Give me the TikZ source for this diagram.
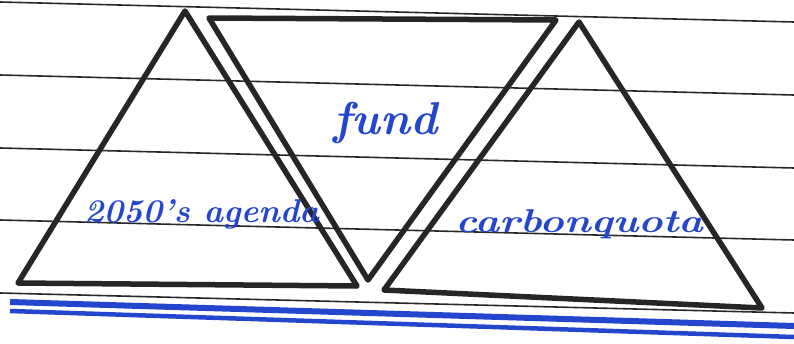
\documentclass[tikz,border=0pt]{standalone}
\usepackage{fontspec}
\definecolor{ink}{RGB}{38,38,40}
\definecolor{pen}{RGB}{35,70,205}
\definecolor{rule}{RGB}{40,40,40}
\tikzset{
  tri/.style={draw=ink, line width=5.5pt, line join=round, line cap=round},
  ruling/.style={draw=rule, line width=1.6pt},
  hand/.style={text=pen, font=\fontsize{33}{33}\selectfont\itshape\bfseries, inner sep=0pt},
}
\begin{document}
\begin{tikzpicture}[x=1pt,y=-1pt]
\fill[white] (0,0) rectangle (794,343);
\useasboundingbox (0,0) rectangle (794,343);
% ruled lines
\foreach \a in {2,75,148,220,293}{
  \draw[ruling] (0,\a) -- (794,\a+20);
}
% blue double line
\draw[pen, line width=6pt] (10,302) -- (794,326);
\draw[pen, line width=4.5pt] (10,311) -- (794,337);
% triangles
\coordinate (L1) at (185,11);
\coordinate (L2) at (18,283);
\coordinate (L3) at (357,286);
\coordinate (M1) at (209,18);
\coordinate (M2) at (556,20);
\coordinate (M3) at (368,280);
\coordinate (R1) at (579,22);
\coordinate (R2) at (384,290);
\coordinate (R3) at (762,308);
\draw[tri] (L1) -- (L2) -- (L3) -- cycle;
\draw[tri] (M1) -- (M2) -- (M3) -- cycle;
\draw[tri] (R1) -- (R2) -- (R3) -- cycle;
% labels
\node[hand, anchor=base west] (agenda) at (84,222) {2050's agenda};
\node[hand, anchor=base west, font=\fontsize{46}{46}\selectfont\itshape\bfseries] (fund) at (333,134) {fund};
\node[hand, anchor=base west, xscale=1.25] (quota) at (455,232) {carbonquota};
\end{tikzpicture}
\end{document}
